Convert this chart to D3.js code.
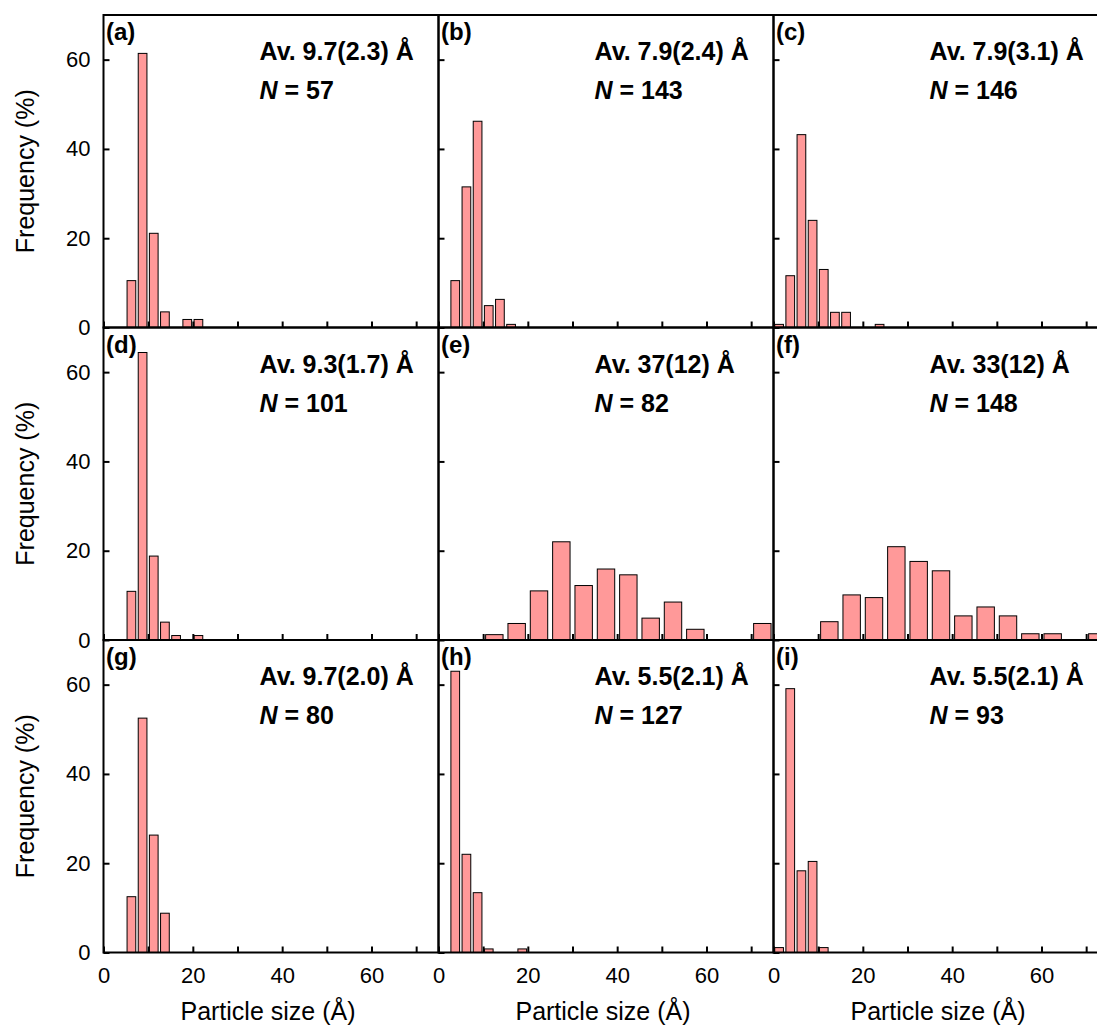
<!DOCTYPE html>
<html>
<head>
<meta charset="utf-8">
<script src="https://cdn.jsdelivr.net/npm/d3@7"></script>
<style>
  body { margin: 0; background: #fff; }
  svg { display: block; font-family: Arial, "Liberation Sans", sans-serif; }
</style>
</head>
<body>
<svg class="chart"></svg>
<script>
// panel texts
var panelLabels = ['(a)', '(b)', '(c)', '(d)', '(e)', '(f)', '(g)', '(h)', '(i)'];
var avgLabels = ['Av. 9.7(2.3) Å', 'Av. 7.9(2.4) Å', 'Av. 7.9(3.1) Å',
                 'Av. 9.3(1.7) Å', 'Av. 37(12) Å', 'Av. 33(12) Å',
                 'Av. 9.7(2.0) Å', 'Av. 5.5(2.1) Å', 'Av. 5.5(2.1) Å'];
var nValues = [57, 143, 146, 101, 82, 148, 80, 127, 93];
var binWidths = [2.5, 2.5, 2.5, 2.5, 5, 5, 2.5, 2.5, 2.5];

// bin centres (Å) and frequencies (%)
var sizesA = [6.25, 8.75, 11.25, 13.75, 18.75, 21.25];
var freqA  = [10.5, 61.4, 21.1, 3.5, 1.8, 1.8];
var sizesB = [3.75, 6.25, 8.75, 11.25, 13.75, 16.25];
var freqB  = [10.5, 31.5, 46.2, 4.9, 6.3, 0.7];
var sizesC = [1.25, 3.75, 6.25, 8.75, 11.25, 13.75, 16.25, 23.75];
var freqC  = [0.7, 11.6, 43.2, 24.0, 13.0, 3.4, 3.4, 0.7];
var sizesD = [6.25, 8.75, 11.25, 13.75, 16.25, 21.25];
var freqD  = [10.9, 64.4, 18.8, 4.0, 1.0, 1.0];
var sizesE = [12.5, 17.5, 22.5, 27.5, 32.5, 37.5, 42.5, 47.5, 52.5, 57.5, 72.5];
var freqE  = [1.2, 3.7, 11.0, 22.0, 12.2, 15.9, 14.6, 4.9, 8.5, 2.4, 3.7];
var sizesF = [12.5, 17.5, 22.5, 27.5, 32.5, 37.5, 42.5, 47.5, 52.5, 57.5, 62.5, 72.5];
var freqF  = [4.1, 10.1, 9.5, 20.9, 17.6, 15.5, 5.4, 7.4, 5.4, 1.4, 1.4, 1.4];
var sizesG = [6.25, 8.75, 11.25, 13.75];
var freqG  = [12.5, 52.5, 26.3, 8.8];
var sizesH = [3.75, 6.25, 8.75, 11.25, 18.75];
var freqH  = [63.0, 22.0, 13.4, 0.8, 0.8];
var sizesI = [1.25, 3.75, 6.25, 8.75, 11.25];
var freqI  = [1.1, 59.1, 18.3, 20.4, 1.1];

var allSizes = [sizesA, sizesB, sizesC, sizesD, sizesE, sizesF, sizesG, sizesH, sizesI];
var allFreqs = [freqA, freqB, freqC, freqD, freqE, freqF, freqG, freqH, freqI];

// axis ticks
var xTicks = [0, 10, 20, 30, 40, 50, 60, 70];
var yTicks = [0, 20, 40, 60];

function show() {
    'use strict';

    var width = 1097, height = 1027;
    var left = 103.5, top = 15,
        panelW = 335, panelH = 312.5;

    var svg = d3.select('.chart')
        .attr('width', width)
        .attr('height', height);

    var x = d3.scaleLinear().domain([0, 75]).range([0, panelW]);
    var y = d3.scaleLinear().domain([0, 70]).range([panelH, 0]);

    panelLabels.forEach(function (label, i) {
        var col = i % 3, row = Math.floor(i / 3);
        var g = svg.append('g')
            .attr('transform', 'translate(' + (left + col * panelW) + ',' + (top + row * panelH) + ')');

        g.append('clipPath').attr('id', 'clip' + i)
            .append('rect').attr('width', panelW).attr('height', panelH);

        var bw = binWidths[i];
        var data = allSizes[i].map(function (s, k) { return { size: s, freq: allFreqs[i][k] }; });

        // bars
        g.append('g').attr('clip-path', 'url(#clip' + i + ')')
            .selectAll('rect').data(data)
            .enter().append('rect')
            .attr('x', function (d) { return x(d.size - bw * 0.39); })
            .attr('width', function () { return x(bw * 0.78) - x(0); })
            .attr('y', function (d) { return y(d.freq); })
            .attr('height', function (d) { return y(0) - y(d.freq); })
            .attr('fill', '#ff9999')
            .attr('stroke', '#000')
            .attr('stroke-width', 1);

        // inward ticks, labels only on the outer panels
        var yAxis = d3.axisLeft(y).tickValues(yTicks).tickSize(-6).tickPadding(13)
            .tickFormat(col === 0 ? d3.format('d') : function () { return ''; });
        var xAxis = d3.axisBottom(x).tickValues(xTicks).tickSize(-6).tickPadding(15)
            .tickFormat(function (d) { return (row === 2 && d % 20 === 0) ? d : ''; });

        var ya = g.append('g').call(yAxis);
        var xa = g.append('g').attr('transform', 'translate(0,' + panelH + ')').call(xAxis);
        [ya, xa].forEach(function (a) {
            a.select('.domain').remove();
            a.selectAll('line').attr('stroke', '#000').attr('stroke-width', 2);
            a.selectAll('text').attr('fill', '#000').style('font-size', '22px')
                .style('font-family', 'Arial, "Liberation Sans", sans-serif');
        });

        // frame
        g.append('rect')
            .attr('width', panelW).attr('height', panelH)
            .attr('fill', 'none').attr('stroke', '#000').attr('stroke-width', 2);

        // texts
        g.append('text').attr('x', 2.5).attr('y', 25)
            .style('font-size', '24px').style('font-weight', 'bold')
            .text(label);

        g.append('text').attr('x', 156).attr('y', 45)
            .style('font-size', '25px').style('font-weight', 'bold')
            .text(avgLabels[i]);

        var n = g.append('text').attr('x', 156).attr('y', 84)
            .style('font-size', '25px').style('font-weight', 'bold');
        n.append('tspan').style('font-style', 'italic').text('N');
        n.append('tspan').text(' = ' + nValues[i]);

        if (col === 0) {
            svg.append('text')
                .attr('transform', 'translate(34,' + (top + row * panelH + panelH / 2) + ') rotate(-90)')
                .attr('text-anchor', 'middle')
                .style('font-size', '25px')
                .text('Frequency (%)');
        }
        if (row === 2) {
            svg.append('text')
                .attr('x', left + col * panelW + panelW / 2 - 3)
                .attr('y', top + 3 * panelH + 67)
                .attr('text-anchor', 'middle')
                .style('font-size', '25px')
                .text('Particle size (Å)');
        }
    });
}

show();
</script>
</body>
</html>
